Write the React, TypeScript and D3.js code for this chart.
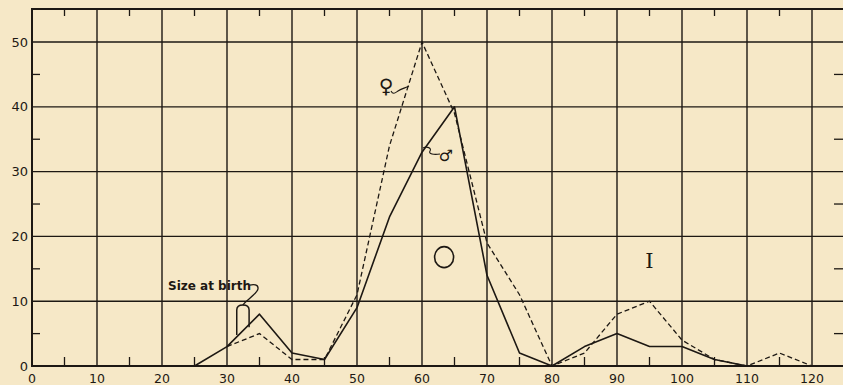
import React, { useEffect, useRef } from "react";
import * as d3 from "d3";

// body length (x) and number of individuals (y)
const maleX = [25, 30, 35, 40, 45, 50, 55, 60, 65, 70, 75, 80, 85, 90, 95, 100, 105, 110];
const maleY = [0, 3, 8, 2, 1, 9, 23, 33, 40, 14, 2, 0, 3, 5, 3, 3, 1, 0];
const femaleX = [30, 35, 40, 45, 50, 55, 60, 65, 70, 75, 80, 85, 90, 95, 100, 105, 110, 115, 120];
const femaleY = [3, 5, 1, 1, 11, 34, 50, 39, 19, 11, 0, 2, 8, 10, 4, 1, 0, 2, 0];

const xTicks = [0, 10, 20, 30, 40, 50, 60, 70, 80, 90, 100, 110, 120];
const xMinor = [5, 15, 25, 35, 45, 55, 65, 75, 85, 95, 105, 115];
const yTicks = [0, 10, 20, 30, 40, 50];
const yMinor = [5, 15, 25, 35, 45];

const W = 843;
const H = 385;
const INK = "#1d1813";
const PAPER = "#f6e8c7";
const FONT = "'DejaVu Sans', sans-serif";

export default function App() {
  const svgRef = useRef<SVGSVGElement | null>(null);

  useEffect(() => {
    document.body.style.margin = "0";
    const svg = d3.select(svgRef.current);
    svg.selectAll("*").remove();

    const x = d3.scaleLinear().domain([0, 125]).range([32, 844.5]);
    const y = d3.scaleLinear().domain([0, 55.1]).range([366, 9]);
    const x0 = x(0), x1 = W, y0 = y(0), yTop = y(55.1);

    svg.append("rect").attr("width", W).attr("height", H).attr("fill", PAPER);

    const g = svg.append("g").attr("stroke", INK).attr("fill", "none");

    // grid
    g.selectAll("line.vg")
      .data(xTicks.slice(1))
      .join("line")
      .attr("x1", (d) => x(d)).attr("x2", (d) => x(d))
      .attr("y1", yTop).attr("y2", y0)
      .attr("stroke-width", 1.4);
    g.selectAll("line.hg")
      .data(yTicks.slice(1))
      .join("line")
      .attr("x1", x0).attr("x2", x1)
      .attr("y1", (d) => y(d)).attr("y2", (d) => y(d))
      .attr("stroke-width", 1.4);

    // minor ticks on the four sides
    xMinor.forEach((v) => {
      g.append("line").attr("x1", x(v)).attr("x2", x(v))
        .attr("y1", yTop).attr("y2", yTop + 7).attr("stroke-width", 1.3);
      g.append("line").attr("x1", x(v)).attr("x2", x(v))
        .attr("y1", y0).attr("y2", y0 - 9).attr("stroke-width", 1.3);
    });
    yMinor.forEach((v) => {
      g.append("line").attr("x1", x0).attr("x2", x0 + 8)
        .attr("y1", y(v)).attr("y2", y(v)).attr("stroke-width", 1.3);
      g.append("line").attr("x1", x1 - 9).attr("x2", x1)
        .attr("y1", y(v)).attr("y2", y(v)).attr("stroke-width", 1.3);
    });

    // frame
    g.append("path")
      .attr("d", `M${x1},${yTop}H${x0}V${y0}H${x1}`)
      .attr("stroke-width", 2);

    // tick labels
    svg.append("g")
      .selectAll("text")
      .data(xTicks)
      .join("text")
      .attr("x", (d) => x(d))
      .attr("y", 382.5)
      .attr("text-anchor", "middle")
      .attr("font-family", FONT)
      .attr("font-size", 12.5)
      .attr("fill", INK)
      .text((d) => d);
    svg.append("g")
      .selectAll("text")
      .data(yTicks)
      .join("text")
      .attr("x", 28)
      .attr("y", (d) => y(d))
      .attr("dy", "0.35em")
      .attr("text-anchor", "end")
      .attr("font-family", FONT)
      .attr("font-size", 13)
      .attr("fill", INK)
      .text((d) => d);

    // series
    const line = d3.line<[number, number]>()
      .x((d) => x(d[0]))
      .y((d) => y(d[1]));
    const male = maleX.map((v, i) => [v, maleY[i]] as [number, number]);
    const female = femaleX.map((v, i) => [v, femaleY[i]] as [number, number]);

    g.append("path").attr("d", line(female)).attr("stroke-width", 1.3)
      .attr("stroke-dasharray", "5,3");
    g.append("path").attr("d", line(male)).attr("stroke-width", 1.6)
      .attr("stroke-linejoin", "round");

    // "Size at birth" bracket
    const bx0 = x(31.5), bx1 = x(33.4), bTop = y(9.4);
    const bm = (bx0 + bx1) / 2;
    g.append("path")
      .attr("d",
        `M${bx0},${y(4.8)}V${bTop + 5}Q${bx0},${bTop} ${bm},${bTop}` +
        `Q${bx1},${bTop} ${bx1},${bTop + 5}V${y(6.0)}`)
      .attr("stroke-width", 1.5);
    g.append("path")
      .attr("d",
        `M${bm},${bTop}C${bm + 2},${bTop - 4} ${bm + 14},${bTop - 11} ${bm + 15},${bTop - 16}` +
        `C${bm + 16},${bTop - 21} ${bm + 10},${bTop - 21} ${bm + 7},${bTop - 20}`)
      .attr("stroke-width", 1.3);
    svg.append("text")
      .attr("x", 168).attr("y", 290)
      .attr("font-family", FONT).attr("font-size", 12).attr("font-weight", "bold")
      .attr("fill", INK)
      .text("Size at birth");

    // sex labels with pointers
    svg.append("text")
      .attr("x", 386).attr("y", 93)
      .attr("text-anchor", "middle")
      .attr("font-family", FONT).attr("font-size", 20).attr("fill", INK)
      .text("♀");
    g.append("path")
      .attr("d", `M391,91C393,95 395,93 398,91S405,88 409,86`)
      .attr("stroke-width", 1.1);
    svg.append("text")
      .attr("x", 446).attr("y", 161)
      .attr("text-anchor", "middle")
      .attr("font-family", FONT).attr("font-size", 16).attr("fill", INK)
      .text("♂");
    g.append("path")
      .attr("d", `M440,154C434,155 428,154 430,151S427,146 423,148`)
      .attr("stroke-width", 1.1);

    // age group marks
    svg.append("ellipse")
      .attr("cx", x(63.4)).attr("cy", y(16.8))
      .attr("rx", 9.5).attr("ry", 10.5)
      .attr("fill", "none").attr("stroke", INK).attr("stroke-width", 1.6);
    svg.append("text")
      .attr("x", x(95)).attr("y", 268)
      .attr("text-anchor", "middle")
      .attr("font-family", "'DejaVu Serif', serif").attr("font-size", 21)
      .attr("fill", INK)
      .text("I");
  }, []);

  return <svg ref={svgRef} width={W} height={H} style={{ display: "block" }} />;
}
